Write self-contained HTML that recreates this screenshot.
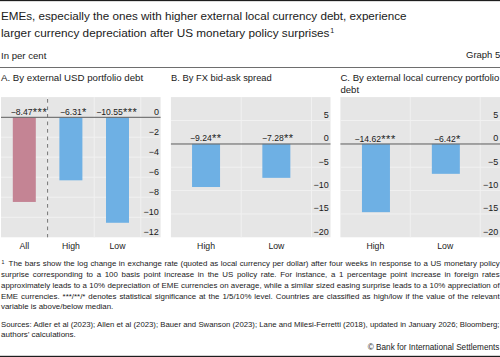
<!DOCTYPE html>
<html><head><meta charset="utf-8"><style>
html,body{margin:0;padding:0;background:#fff;}
body{width:500px;height:357px;overflow:hidden;position:relative;font-family:"Liberation Sans", sans-serif;color:#1a1a1a;}
svg{position:absolute;left:0;top:0;}
svg text{font-family:"Liberation Sans", sans-serif;fill:#1a1a1a;}
.l{position:absolute;line-height:1;white-space:nowrap;}
</style></head><body>
<svg width="500" height="357" viewBox="0 0 500 357"><rect x="0" y="0" width="500" height="1.15" fill="#1e1e1e"/><rect x="0" y="355.8" width="500" height="1.2" fill="#1e1e1e"/><rect x="0" y="67" width="500" height="1" fill="#6e6e6e"/><rect x="1" y="97.1" width="159.6" height="140.20000000000002" fill="#e6e6e6"/><rect x="1" y="136.66" width="159.6" height="1" fill="#f1f1f1"/><rect x="1" y="156.69" width="159.6" height="1" fill="#f1f1f1"/><rect x="1" y="176.71" width="159.6" height="1" fill="#f1f1f1"/><rect x="1" y="196.74" width="159.6" height="1" fill="#f1f1f1"/><rect x="1" y="216.77" width="159.6" height="1" fill="#f1f1f1"/><rect x="140.30" y="97.1" width="1" height="140.20000000000002" fill="#f1f1f1"/><rect x="47.10" y="97.1" width="1" height="140.20000000000002" fill="#f1f1f1"/><rect x="93.70" y="97.1" width="1" height="140.20000000000002" fill="#f1f1f1"/><rect x="170.9" y="97.1" width="159.6" height="140.20000000000002" fill="#e6e6e6"/><rect x="170.9" y="119.97" width="159.6" height="1" fill="#f1f1f1"/><rect x="170.9" y="166.70" width="159.6" height="1" fill="#f1f1f1"/><rect x="170.9" y="190.07" width="159.6" height="1" fill="#f1f1f1"/><rect x="170.9" y="213.43" width="159.6" height="1" fill="#f1f1f1"/><rect x="311.00" y="97.1" width="1" height="140.20000000000002" fill="#f1f1f1"/><rect x="240.70" y="97.1" width="1" height="140.20000000000002" fill="#f1f1f1"/><rect x="340.4" y="97.1" width="159.6" height="140.20000000000002" fill="#e6e6e6"/><rect x="340.4" y="119.97" width="159.6" height="1" fill="#f1f1f1"/><rect x="340.4" y="166.70" width="159.6" height="1" fill="#f1f1f1"/><rect x="340.4" y="190.07" width="159.6" height="1" fill="#f1f1f1"/><rect x="340.4" y="213.43" width="159.6" height="1" fill="#f1f1f1"/><rect x="479.70" y="97.1" width="1" height="140.20000000000002" fill="#f1f1f1"/><rect x="409.80" y="97.1" width="1" height="140.20000000000002" fill="#f1f1f1"/><rect x="12.80" y="117.13" width="23" height="84.82" fill="#c48494"/><rect x="59.40" y="117.13" width="23" height="63.19" fill="#6eb0e4"/><rect x="106.00" y="117.13" width="23" height="105.65" fill="#6eb0e4"/><rect x="192.05" y="143.83" width="28" height="43.18" fill="#6eb0e4"/><rect x="262.35" y="143.83" width="28" height="34.02" fill="#6eb0e4"/><rect x="361.95" y="143.83" width="28" height="68.32" fill="#6eb0e4"/><rect x="431.85" y="143.83" width="28" height="30.00" fill="#6eb0e4"/><line x1="47.60" y1="99.0" x2="47.60" y2="237.3" stroke="#6e6e6e" stroke-width="0.95" stroke-dasharray="3.7 3.8"/><rect x="1" y="116.78" width="159.6" height="1.1" fill="#6a6a6a"/><rect x="170.9" y="143.43" width="159.6" height="1.1" fill="#6a6a6a"/><rect x="340.4" y="143.43" width="159.6" height="1.1" fill="#6a6a6a"/><text x="1" y="20.1" font-size="11.66" text-anchor="start" >EMEs, especially the ones with higher external local currency debt, experience</text><text x="1" y="36.7" font-size="11.75" text-anchor="start" >larger currency depreciation after US monetary policy surprises<tspan font-size="7" dx="0.7" dy="-4.1">1</tspan></text><text x="1" y="58.6" font-size="9.6" text-anchor="start" >In per cent</text><text x="466" y="58.2" font-size="9.5" text-anchor="start" >Graph 5</text><text x="1" y="81.3" font-size="9.7" text-anchor="start" >A. By external USD portfolio debt</text><text x="171" y="81.3" font-size="9.35" text-anchor="start" >B. By FX bid-ask spread</text><text x="340.4" y="81.3" font-size="9.6" text-anchor="start" >C. By external local currency portfolio</text><text x="340.4" y="92.8" font-size="9.6" text-anchor="start" >debt</text><text x="158.90" y="114.53" font-size="9.0" text-anchor="end" >0</text><text x="158.90" y="134.56" font-size="9.0" text-anchor="end" >−2</text><text x="158.90" y="154.59" font-size="9.0" text-anchor="end" >−4</text><text x="158.90" y="174.61" font-size="9.0" text-anchor="end" >−6</text><text x="158.90" y="194.64" font-size="9.0" text-anchor="end" >−8</text><text x="158.90" y="214.67" font-size="9.0" text-anchor="end" >−10</text><text x="158.90" y="234.70" font-size="9.0" text-anchor="end" >−12</text><text x="328.80" y="117.87" font-size="9.0" text-anchor="end" >5</text><text x="328.80" y="141.23" font-size="9.0" text-anchor="end" >0</text><text x="328.80" y="164.60" font-size="9.0" text-anchor="end" >−5</text><text x="328.80" y="187.97" font-size="9.0" text-anchor="end" >−10</text><text x="328.80" y="211.33" font-size="9.0" text-anchor="end" >−15</text><text x="328.80" y="234.70" font-size="9.0" text-anchor="end" >−20</text><text x="498.30" y="117.87" font-size="9.0" text-anchor="end" >5</text><text x="498.30" y="141.23" font-size="9.0" text-anchor="end" >0</text><text x="498.30" y="164.60" font-size="9.0" text-anchor="end" >−5</text><text x="498.30" y="187.97" font-size="9.0" text-anchor="end" >−10</text><text x="498.30" y="211.33" font-size="9.0" text-anchor="end" >−15</text><text x="498.30" y="234.70" font-size="9.0" text-anchor="end" >−20</text><text x="24.30" y="249.0" font-size="8.7" text-anchor="middle" >All</text><text x="70.90" y="249.0" font-size="8.7" text-anchor="middle" >High</text><text x="117.50" y="249.0" font-size="8.7" text-anchor="middle" >Low</text><text x="206.05" y="249.0" font-size="8.7" text-anchor="middle" >High</text><text x="276.35" y="249.0" font-size="8.7" text-anchor="middle" >Low</text><text x="375.35" y="249.0" font-size="8.7" text-anchor="middle" >High</text><text x="445.25" y="249.0" font-size="8.7" text-anchor="middle" >Low</text><text x="10.8" y="115.43" font-size="8.6" text-anchor="start" >−8.47<tspan font-size="11" dx="0.2" dy="1.0" letter-spacing="0.55">***</tspan></text><text x="60" y="115.43" font-size="8.6" text-anchor="start" >−6.31<tspan font-size="11" dx="0.2" dy="1.0" letter-spacing="0.55">*</tspan></text><text x="96.2" y="115.43" font-size="8.6" text-anchor="start" >−10.55<tspan font-size="11" dx="0.2" dy="1.0" letter-spacing="0.55">***</tspan></text><text x="190" y="140.58" font-size="8.6" text-anchor="start" >−9.24<tspan font-size="11" dx="0.2" dy="1.0" letter-spacing="0.55">**</tspan></text><text x="262" y="140.58" font-size="8.6" text-anchor="start" >−7.28<tspan font-size="11" dx="0.2" dy="1.0" letter-spacing="0.55">**</tspan></text><text x="354.5" y="141.68" font-size="8.6" text-anchor="start" >−14.62<tspan font-size="11" dx="0.2" dy="1.0" letter-spacing="0.55">***</tspan></text><text x="434" y="141.68" font-size="8.6" text-anchor="start" >−6.42<tspan font-size="11" dx="0.2" dy="1.0" letter-spacing="0.55">*</tspan></text></svg>
<div class="l" style="left:8.6px;top:260.21px;font-size:7.9px;width:491.00px;text-align:justify;text-align-last:justify;">The bars show the log change in exchange rate (quoted as local currency per dollar) after four weeks in response to a US monetary policy</div><div class="l" style="left:1px;top:271.01px;font-size:7.9px;width:498.60px;text-align:justify;text-align-last:justify;">surprise corresponding to a 100 basis point increase in the US policy rate. For instance, a 1 percentage point increase in foreign rates</div><div class="l" style="left:1px;top:281.81px;font-size:7.9px;width:498.60px;text-align:justify;text-align-last:justify;">approximately leads to a 10% depreciation of EME currencies on average, while a similar sized easing surprise leads to a 10% appreciation of</div><div class="l" style="left:1px;top:292.61px;font-size:7.9px;width:498.60px;text-align:justify;text-align-last:justify;">EME currencies. ***/**/* denotes statistical significance at the 1/5/10% level. Countries are classified as high/low if the value of the relevant</div><div class="l" style="left:1px;top:303.41px;font-size:7.9px;">variable is above/below median.</div><div class="l" style="left:1.4px;top:259.90px;font-size:5.2px">1</div><div class="l" style="left:1px;top:321.04px;font-size:7.75px;width:498.5px;text-align:justify;text-align-last:justify;">Sources: Adler et al (2023); Allen et al (2023); Bauer and Swanson (2023); Lane and Milesi-Ferretti (2018), updated in January 2026; Bloomberg;</div><div class="l" style="left:1px;top:331.39px;font-size:8.05px;">authors’ calculations.</div><div class="l" style="right:0.6px;top:344.26px;font-size:8.2px;">© Bank for International Settlements</div>
</body></html>
